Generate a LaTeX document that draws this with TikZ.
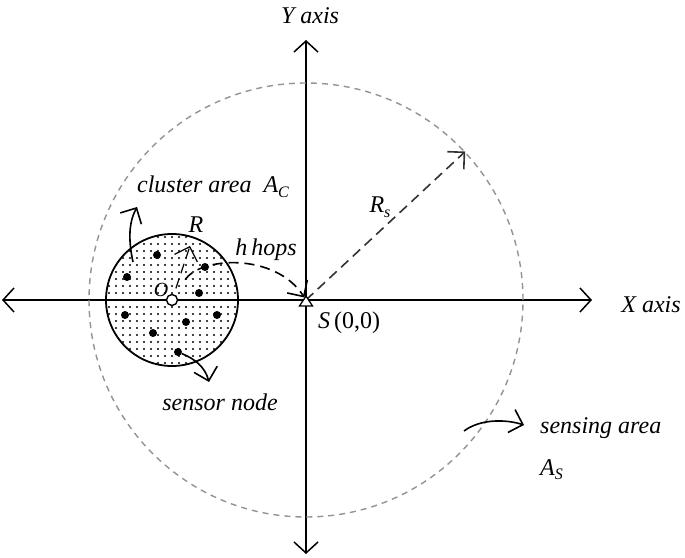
\documentclass[tikz,border=0pt]{standalone}
\usepackage{fontspec}
\setmainfont{Liberation Serif}
\usepackage{xcolor}
\usepackage{tikz}
\usetikzlibrary{arrows.meta}

\newcommand{\withsub}[2]{#1\raisebox{-0.45ex}{\fontsize{16}{16}\selectfont #2}}

\begin{document}
\begin{tikzpicture}[x=1pt, y=1pt,
      every node/.style={font=\fontsize{24}{28}\selectfont\itshape, inner sep=2pt},
      axis/.style={line width=1.5pt, {Straight Barb[length=11pt,width=24pt]}-{Straight Barb[length=11pt,width=24pt]}},
      arrow/.style={-{Straight Barb[length=12pt,width=24pt]}, line width=1.6pt},
      dasharrow/.style={arrow, dash pattern=on 10pt off 6pt},
      sensing/.style={circle, draw=gray!85, dash pattern=on 6pt off 5pt, line width=1.4pt, inner sep=0pt},
      cluster/.style={circle, draw, line width=1.8pt, inner sep=0pt},
      sensor/.style={circle, fill, minimum size=8pt, inner sep=0pt},
      hub/.style={circle, draw, fill=white, line width=1.4pt, minimum size=11pt, inner sep=0pt}
    ]
      \useasboundingbox (0,0) rectangle (685,557);

      % axes
      \coordinate (S) at (306,257);
      \coordinate (xl) at (2,257);
      \coordinate (xr) at (592,257);
      \coordinate (yb) at (306,3);
      \coordinate (yt) at (306,517);
      \draw[axis] (xl) -- (xr);
      \draw[axis] (yb) -- (yt);
      \node (ylbl) at (310,541) {Y axis};
      \node (xlbl) at (651,252) {X axis};

      % sensing area
      \node[sensing, minimum size=434pt] (sense) at (S) {};
      \draw[dasharrow, black!80] (S) -- (sense.43);
      \node (rs) at (380,350) {\withsub{R}{s}};

      % cluster area with its dot fill
      \begin{scope}
        \clip (172,257) circle (66);
        \foreach \i in {-10,...,10}
          \foreach \j in {-10,...,10}
            \fill (172+7*\i,257+7*\j) circle (1.1);
      \end{scope}
      \node[cluster, minimum size=132pt] (clus) at (172,257) {};

      % sensor nodes
      \foreach \n/\x/\y in {1/157/302, 2/127/280, 3/205/290, 4/199/264, 5/125/242,
                           6/217/242, 7/186/235, 8/153/224, 9/178/205}
        \node[sensor] (s\n) at (\x,\y) {};

      \node[hub] (O) at (172,257) {};
      \node[font=\fontsize{20}{20}\selectfont\itshape] (olbl) at (161,267) {O};
      \coordinate (rtip) at (190,311);
      \draw[dasharrow, line width=1.2pt, shorten <=6pt] (O) -- (rtip);
      \node (rlbl) at (196,332) {R};

      % hops towards the sink
      \draw[dasharrow, shorten <=18pt, shorten >=3pt] (O) .. controls (200,300) and (275,305) .. (S);
      \node (hlbl) at (266,307) {h\,hops};
      \draw[line width=1.3pt, fill=white] ([shift={(-6.5,-6)}]S) -- ([shift={(6.5,-6)}]S) -- ([shift={(0,4)}]S) -- cycle;
      \node (slbl) at (349,234) {S\upshape\,(0,0)};

      % labels with pointers
      \node (clbl) at (213,370) {cluster area\enspace\withsub{A}{C}};
      \coordinate (cfoot) at (133,295);
      \coordinate (chead) at (137,350);
      \draw[arrow] (cfoot) .. controls (128,318) and (129,335) .. (chead);

      \coordinate (snhead) at (209,175);
      \draw[arrow] (s9) .. controls (195,198) and (205,190) .. (snhead);
      \node (snlbl) at (220,155) {sensor node};

      \coordinate (satail) at (464,126);
      \coordinate (sahead) at (524,132);
      \draw[arrow] (satail) .. controls (480,138) and (505,138) .. (sahead);
      \node[anchor=base west] (salbl) at (538,124) {sensing area};
      \node[anchor=base west] (salbl2) at (538,82) {\withsub{A}{S}};
    \end{tikzpicture}
\end{document}
